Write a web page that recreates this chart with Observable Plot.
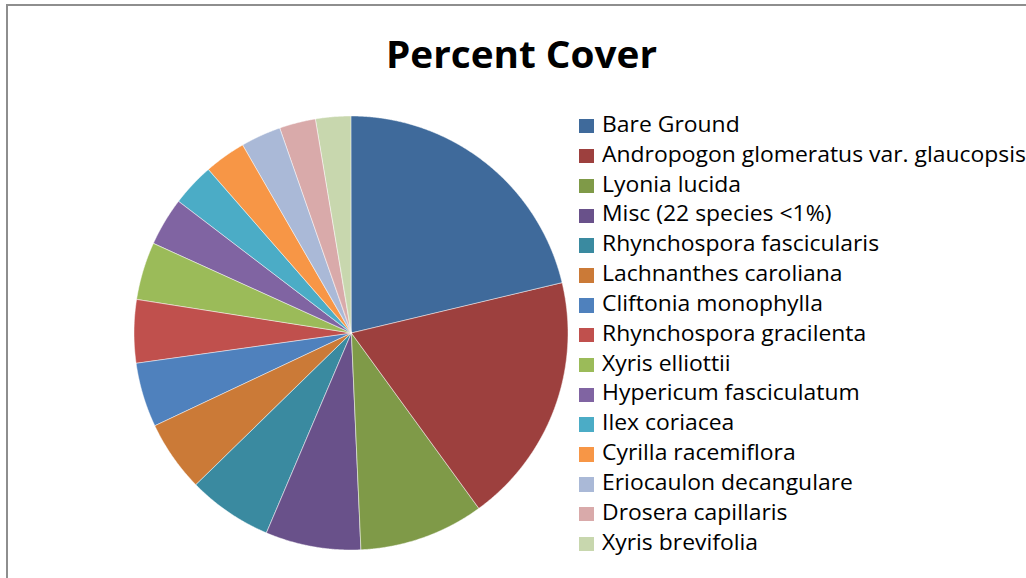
<!DOCTYPE html>
<html>
<head>
<meta charset="utf-8">
<script src="https://cdn.jsdelivr.net/npm/d3@7"></script>
<script src="https://cdn.jsdelivr.net/npm/@observablehq/plot@0.6"></script>
<style>
  html, body { margin: 0; padding: 0; background: #fff; width: 1026px; height: 578px; overflow: hidden; }
  #frame { position: absolute; left: 6px; top: 4px; width: 1100px; height: 700px; border-left: 2px solid #8e8e8e; border-top: 2px solid #8e8e8e; }
  #title { position: absolute; top: 34.8px; left: 0; width: 1042px; text-align: center; font-family: "Open Sans", sans-serif; font-weight: 700; font-size: 37px; line-height: 37px; color: #000; white-space: nowrap; }
  #title span { display: inline-block; transform-origin: 50% 50%; }
  #pie { position: absolute; left: 131px; top: 113px; }
  .row { position: absolute; left: 579px; height: 29.84px; line-height: 29.84px; font-family: "Open Sans", sans-serif; font-size: 21px; color: #000; white-space: nowrap; }
  .sw { position: absolute; left: 0; top: 9.1px; width: 14.5px; height: 14.5px; }
  .lab { position: absolute; left: 23px; top: 0; display: inline-block; transform-origin: 0 50%; }
</style>
</head>
<body>
<div id="frame"></div>
<div id="title"><span>Percent Cover</span></div>
<div id="pie"></div>
<div id="legend"></div>
<script>
const categories = [
  "Bare Ground",
  "Andropogon glomeratus var. glaucopsis",
  "Lyonia lucida",
  "Misc (22 species <1%)",
  "Rhynchospora fascicularis",
  "Lachnanthes caroliana",
  "Cliftonia monophylla",
  "Rhynchospora gracilenta",
  "Xyris elliottii",
  "Hypericum fasciculatum",
  "Ilex coriacea",
  "Cyrilla racemiflora",
  "Eriocaulon decangulare",
  "Drosera capillaris",
  "Xyris brevifolia"
];
const values = [21.3, 18.7, 9.3, 7.1, 6.3, 5.3, 4.8, 4.7, 4.3, 3.6, 3.2, 3.1, 3.0, 2.7, 2.6];
const colors = [
  "#3f6a9b", "#9d403e", "#7f9a48", "#69518a", "#3a8aa0", "#cb7a37", "#4f81bd", "#c0504d",
  "#9bbb59", "#8064a2", "#4bacc6", "#f79646", "#aab9d7", "#d9aaaa", "#c8d7ae"
];

const slices = categories.map((name, i) => ({name, value: values[i]}));
const arcs = d3.pie().sort(null).value(d => d.value)(slices);
const points = [];
for (const a of arcs) {
  const n = Math.max(2, Math.ceil((a.endAngle - a.startAngle) / 0.004));
  for (let k = 0; k <= n; k++) {
    const t = a.startAngle + (a.endAngle - a.startAngle) * k / n;
    points.push({name: a.data.name, x: Math.sin(t), y: Math.cos(t), cx: 0, cy: 0});
  }
}

const chart = Plot.plot({
  width: 440,
  height: 440,
  margin: 3,
  x: {domain: [-1, 1], axis: null},
  y: {domain: [-1, 1], axis: null},
  color: {domain: categories, range: colors},
  style: {background: "transparent", overflow: "visible"},
  marks: [
    Plot.area(points, {
      x1: "x", y1: "y", x2: "cx", y2: "cy",
      z: "name", fill: "name",
      stroke: "#ffffff", strokeWidth: 0.6, strokeOpacity: 0.8,
      curve: "linear"
    })
  ]
});
document.getElementById("pie").appendChild(chart);

// legend
const legend = document.getElementById("legend");
categories.forEach((name, i) => {
  const row = document.createElement("div");
  row.className = "row";
  row.style.top = (109.9 + i * 29.84) + "px";
  const sw = document.createElement("div");
  sw.className = "sw";
  sw.style.background = colors[i];
  const lab = document.createElement("span");
  lab.className = "lab";
  lab.textContent = name;
  row.appendChild(sw);
  row.appendChild(lab);
  legend.appendChild(row);
});

// horizontal scaling to match reference text widths
const labs = legend.querySelectorAll(".lab");
const w1 = labs[1].getBoundingClientRect().width;
const sx = 424 / w1;
labs.forEach(l => l.style.transform = `scaleX(${sx})`);
const t = document.querySelector("#title span");
const tw = t.getBoundingClientRect().width;
t.style.transform = `scaleX(${271 / tw})`;
</script>
</body>
</html>
